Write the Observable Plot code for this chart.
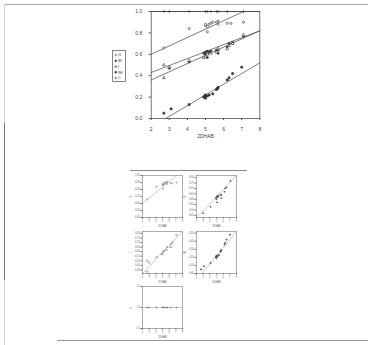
<!DOCTYPE html>
<html><head><meta charset="utf-8">
<script src="https://cdn.jsdelivr.net/npm/d3@7"></script>
<script src="https://cdn.jsdelivr.net/npm/@observablehq/plot@0.6"></script>
<style>
html,body{margin:0;padding:0;background:#fff;}
#page{position:relative;width:368px;height:345px;overflow:hidden;background:#fff;font-family:"Liberation Sans",Arial,sans-serif;}
.abs{position:absolute;}
</style></head>
<body><div id="page">
<div class="abs" style="left:4px;top:4px;width:364px;height:1px;background:#aaa"></div>
<div class="abs" style="left:4px;top:4px;width:1px;height:341px;background:#ccc"></div>
<div class="abs" style="left:4px;top:123px;width:1px;height:157px;background:#777"></div>
<div class="abs" style="left:57px;top:340px;width:311px;height:1px;background:#999"></div>
<div class="abs" style="left:130px;top:170px;width:117px;height:1px;background:#888"></div>
<div id="main" class="abs" style="left:120px;top:6px"></div>
<div id="legend" class="abs" style="left:112px;top:50px"></div>
<div id="p1" class="abs"></div><div id="p2" class="abs"></div><div id="p3" class="abs"></div><div id="p4" class="abs"></div><div id="p5" class="abs"></div>
</div>
<script>
// ---- data ----
const seriesNames = ["G", "IE", "I", "IM", "C"];
const xTicks = [2, 3, 4, 5, 6, 7, 8];
const yTicks = [0, 0.2, 0.4, 0.6, 0.8, 1.0];
const ptsG = [[2.7,0.66],[4.1,0.84],[5.0,0.87],[5.0,0.88],[5.1,0.86],[5.1,0.81],[5.2,0.88],[5.3,0.89],[5.4,0.90],[5.6,0.90],[5.7,0.91],[5.7,0.88],[6.2,0.89],[6.4,0.89],[7.1,0.90]];
const ptsIE = [[3.0,0.47],[4.1,0.53],[4.9,0.61],[5.0,0.62],[5.0,0.60],[5.1,0.63],[5.1,0.57],[5.2,0.62],[5.3,0.63],[5.6,0.64],[5.7,0.64],[5.7,0.61],[6.2,0.67],[6.3,0.70],[6.5,0.71],[7.1,0.77]];
const ptsI = [[2.7,0.50],[2.7,0.38],[3.0,0.48],[4.1,0.54],[4.9,0.57],[5.0,0.58],[5.1,0.60],[5.3,0.61],[5.6,0.62],[5.7,0.65],[6.2,0.65],[6.3,0.68],[6.5,0.70],[7.1,0.78]];
const ptsIM = [[2.7,0.05],[3.1,0.09],[4.1,0.13],[4.9,0.20],[4.95,0.21],[5.0,0.22],[5.0,0.19],[5.1,0.21],[5.2,0.22],[5.4,0.23],[5.6,0.27],[5.65,0.28],[5.7,0.29],[6.2,0.36],[6.3,0.38],[6.5,0.42],[7.0,0.48]];
const ptsC = [[2.7,1.0],[3.0,1.0],[4.1,1.0],[5.0,1.0],[5.1,1.0],[5.3,1.0],[5.6,1.0],[5.7,1.0],[6.2,1.0],[7.1,1.0]];
const lineG = [[2,0.60],[7.1,1.0]];
const lineIE = [[2,0.43],[8,0.82]];
const lineI = [[2,0.36],[8,0.82]];
const lineIM = [[2.8,0.0],[8,0.52]];
const lineC = [[2,1.0],[8,1.0]];

const symbols = {G:"circle", IE:"circle", I:"triangle", IM:"square", C:"plus"};
const filled = {G:false, IE:true, I:false, IM:true, C:false};
const pts = {G:ptsG, IE:ptsIE, I:ptsI, IM:ptsIM, C:ptsC};
const lines = {G:lineG, IE:lineIE, I:lineI, IM:lineIM, C:lineC};
const ink = "#333";
const font = "Liberation Sans, Arial, sans-serif";

function dotMark(name, r) {
  return Plot.dot(pts[name], {x: d => d[0], y: d => d[1], r, symbol: symbols[name],
    fill: filled[name] ? ink : "white", stroke: ink, strokeWidth: 0.6});
}
function lineMark(name) {
  return Plot.line(lines[name], {x: d => d[0], y: d => d[1], stroke: "#444", strokeWidth: 0.7});
}

// ---- main chart ----
const main = Plot.plot({
  width: 150, height: 140,
  marginLeft: 30.7, marginRight: 10.7, marginTop: 5, marginBottom: 28,
  style: {fontSize: "5px", fontFamily: font, color: "#444", background: "transparent"},
  x: {domain: [2, 8], ticks: xTicks, tickSize: 2, tickFormat: d3.format("d"), label: "2DHAB", labelAnchor: "center", labelArrow: "none", labelOffset: 19},
  y: {domain: [0, 1], ticks: yTicks, tickSize: 2, tickFormat: d3.format(".1f"), label: null},
  marks: [
    Plot.frame({stroke: "#555", strokeWidth: 0.8}),
    ...seriesNames.map(n => lineMark(n)),
    ...seriesNames.map(n => dotMark(n, 1.1))
  ]
});
document.getElementById("main").appendChild(main);

// ---- legend (as a small Plot) ----
const legendRows = seriesNames.map((n, i) => ({name: n, row: i}));
const legend = Plot.plot({
  width: 14, height: 32, margin: 0,
  style: {fontSize: "4.3px", fontFamily: font, color: "#444", background: "transparent"},
  x: {domain: [0, 14], axis: null},
  y: {domain: [-0.8, 4.8], reverse: true, axis: null},
  marks: [
    Plot.rect([0], {x1: 0.6, x2: 13.4, y1: -0.7, y2: 4.7, fill: "white", stroke: "#666", strokeWidth: 0.8}),
    Plot.dot(legendRows, {x: 3.2, y: "row", r: 0.9, symbol: d => symbols[d.name],
      fill: d => filled[d.name] ? ink : "white", stroke: ink, strokeWidth: 0.5}),
    Plot.text(legendRows, {x: 5.2, y: "row", text: "name", textAnchor: "start", fill: "#444"})
  ]
});
document.getElementById("legend").appendChild(legend);

// ---- small panels ----
const panelDefs = [
  {id: "p1", name: "G", left: 142, top: 175, domain: [0.4, 1.0], ticks: [0.4,0.5,0.6,0.7,0.8,0.9,1.0]},
  {id: "p2", name: "IE", left: 196, top: 175, domain: [0.43, 0.82], ticks: [0.45,0.5,0.55,0.6,0.65,0.7,0.75,0.8]},
  {id: "p3", name: "I", left: 142, top: 231, domain: [0.36, 0.82], ticks: [0.4,0.45,0.5,0.55,0.6,0.65,0.7,0.75,0.8]},
  {id: "p4", name: "IM", left: 196, top: 231, domain: [0.0, 0.52], ticks: [0,0.1,0.2,0.3,0.4,0.5]},
  {id: "p5", name: "C", left: 142, top: 286, domain: [0.5, 1.5], ticks: [0.5,1.0,1.5]}
];
panelDefs.forEach(p => {
  const ml = 16, mt = 2;
  const svg = Plot.plot({
    width: 60, height: 58,
    marginLeft: ml, marginRight: 4, marginTop: mt, marginBottom: 14,
    style: {fontSize: "2.6px", fontFamily: font, color: "#666", background: "transparent"},
    x: {domain: [2, 8], ticks: xTicks, tickSize: 1.5, tickPadding: 1, tickFormat: d3.format("d"), label: "2DHAB", labelAnchor: "center", labelArrow: "none", labelOffset: 9},
    y: {domain: p.domain, ticks: p.ticks, tickSize: 1.5, tickPadding: 1, label: p.name, labelAnchor: "center", labelArrow: "none", labelOffset: 12},
    marks: [
      Plot.frame({stroke: "#777", strokeWidth: 0.6}),
      Plot.line(lines[p.name], {x: d => d[0], y: d => d[1], stroke: "#999", strokeWidth: 0.5, clip: true}),
      Plot.dot(pts[p.name], {x: d => d[0], y: d => d[1], r: 0.7, symbol: symbols[p.name], fill: filled[p.name] ? "#555" : "white", stroke: "#555", strokeWidth: 0.4})
    ]
  });
  const el = document.getElementById(p.id);
  el.style.left = (p.left - ml) + "px";
  el.style.top = (p.top - mt) + "px";
  el.appendChild(svg);
});
</script>
</body></html>
